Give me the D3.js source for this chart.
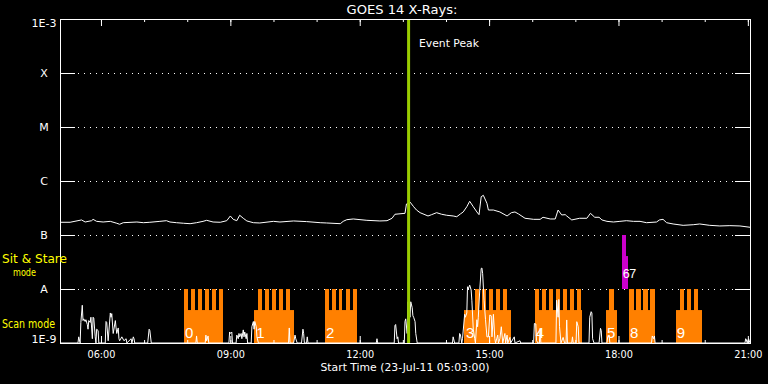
<!DOCTYPE html>
<html><head><meta charset="utf-8">
<script src="https://cdn.jsdelivr.net/npm/d3@7"></script>
<style>
html,body{margin:0;padding:0;background:#000;}
svg{display:block;background:#000;}
text{font-family:"DejaVu Sans",sans-serif;}
</style></head><body>
<svg id="chart" width="768" height="384"></svg>
<script>
// ---------------- data ----------------
const startTime = Date.UTC(2011, 6, 23, 5, 3, 0);   // 23-Jul-11 05:03:00
const durationMin = 960;
const titleText = "GOES 14 X-Rays:";
const xTitleText = "Start Time (23-Jul-11 05:03:00)";
const fluxTicks = [1e-9, 1e-8, 1e-7, 1e-6, 1e-5, 1e-4, 1e-3];
const fluxTickLabels = ["1E-9", "A", "B", "C", "M", "X", "1E-3"];
const gridLevels = [1e-8, 1e-7, 1e-6, 1e-5, 1e-4];
const eventPeakMin = 485;
const eventLabel = "Event Peak";
const modeTextStare = ["Sit & Stare", "mode"];
const modeTextScan = "Scan mode";

// GOES long channel: [minutes after start, flux in 1e-7 W/m^2]
const longChannel = [
 [0,1.72],[14,1.72],[30,1.90],[35,1.74],[44,1.84],[46,1.95],[51,1.79],[60,1.74],[70,1.79],[79,1.65],
 [83,1.58],[88,1.69],[107,1.74],[116,1.69],[125,1.72],[139,1.79],[148,1.84],[153,1.74],[162,1.69],[172,1.65],
 [181,1.62],[190,1.69],[199,1.79],[204,1.87],[213,1.74],[223,1.72],[232,1.84],[237,2.25],[241,1.95],[246,1.84],
 [250,2.32],[255,2.04],[260,1.82],[269,1.69],[278,1.67],[297,1.79],[306,1.74],[325,1.82],[343,1.77],[362,1.69],
 [371,1.67],[390,1.62],[394,1.79],[399,1.92],[408,1.98],[427,1.87],[445,1.82],[455,1.84],[462,2.04],[466,2.42],
 [480,2.52],[482,3.75],[487,4.08],[492,3.34],[496,2.90],[501,2.59],[512,2.25],[517,2.38],[524,2.59],[531,2.42],
 [538,2.32],[547,2.25],[552,2.18],[557,2.45],[561,2.67],[566,3.34],[570,4.21],[575,3.34],[580,2.67],[583,2.38],
 [586,5.12],[589,5.43],[594,3.86],[596,2.90],[603,2.90],[612,2.67],[622,2.25],[628,2.59],[633,2.67],[638,2.45],
 [647,2.04],[659,1.95],[668,1.95],[672,2.13],[682,1.98],[689,1.98],[693,2.90],[698,2.35],[703,2.38],[705,2.25],
 [712,1.90],[723,2.04],[733,2.04],[738,2.52],[744,2.13],[750,2.13],[754,1.90],[761,1.79],[770,1.74],[779,1.79],
 [788,1.84],[798,1.79],[807,1.79],[816,1.69],[830,1.74],[834,1.90],[839,1.95],[844,1.69],[853,1.60],[867,1.51],
 [881,1.55],[890,1.60],[904,1.51],[918,1.47],[932,1.49],[946,1.47],[960,1.39]
];

// GOES short channel: [minutes after start, flux in 1e-9 W/m^2]
const shortChannel = [
 [0,0.9],[25,0.9],[26,1.3],[28,0.9],[29,2.4],[31,5.0],[32,2.6],[33,2.8],[35,2.5],[36,2.7],[38,2.2],[39,1.8],
 [40,2.6],[42,2.4],[43,3.0],[45,1.2],[46,3.0],[47,2.9],[49,1.3],[50,0.9],[51,1.8],[53,1.7],[54,0.9],
 [63,0.9],[64,2.5],[65,2.4],[67,1.1],[70,3.6],[71,3.0],[72,3.5],[74,1.5],[77,2.6],[78,1.9],[79,1.5],[81,1.9],
 [82,1.2],[83,1.1],[86,1.3],[89,1.1],[92,1.2],[93,0.9],[99,1.2],[100,1.0],[102,1.3],[103,1.2],[104,0.9],
 [122,0.9],[124,1.8],[125,1.7],[127,0.9],
 [189,0.9],[190,1.35],[191,1.0],[192,0.9],[202,0.9],[203,1.4],[204,1.1],[206,1.35],[207,0.9],
 [235,0.9],[236,1.6],[237,1.5],[239,1.6],[240,0.9],[245,0.9],[246,1.4],[248,1.2],[249,1.5],[250,1.3],[252,1.5],
 [253,1.2],[255,1.75],[256,1.3],[257,1.6],[259,1.2],[260,1.5],[261,1.0],[263,0.9],[266,0.9],[267,2.0],[269,2.5],
 [270,1.8],[271,2.5],[273,2.0],[274,1.3],[276,0.9],
 [318,0.9],[319,1.9],[320,0.9],[325,0.9],[327,1.4],[328,1.2],[330,0.9],[336,0.9],[338,1.8],[339,1.5],[340,0.9],
 [343,0.9],[344,1.3],[345,0.9],
 [440,0.9],[441,1.2],[442,0.9],[465,0.9],[466,2.1],[467,2.2],[469,1.2],[470,1.3],[471,0.9],[479,0.9],[480,2.5],
 [481,2.8],[483,1.5],[484,5.8],[485,4.5],[487,3.0],[488,5.8],[490,4.5],[491,3.2],[492,3.0],[494,2.5],[495,1.5],
 [497,0.9],
 [546,0.9],[547,1.3],[549,0.9],[555,0.9],[556,1.5],[557,1.45],[559,0.9],[560,1.2],[563,3.4],[564,3.0],[566,3.6],
 [567,11.0],[568,10.0],[570,11.8],[572,9.6],[573,6.2],[575,1.8],[577,1.2],[578,1.0],[580,2.7],[581,2.0],[582,3.0],
 [584,9.6],[586,24.0],[587,24.5],[588,19.5],[590,6.2],[592,2.7],[594,1.3],[596,1.3],[598,3.3],[600,3.2],[601,1.3],
 [603,3.4],[605,1.2],[606,1.0],[609,1.4],[610,1.0],[612,1.2],[614,2.0],[616,1.0],[619,1.5],[620,0.9],[622,1.4],
 [623,0.9],[626,1.27],[627,0.9],[632,1.3],[633,0.9],[640,1.1],[641,0.9],
 [659,0.9],[660,2.3],[662,2.25],[663,1.1],[665,0.9],[667,0.9],[668,1.87],[669,0.9],[690,0.9],[691,6.2],[693,3.0],
 [694,6.4],[695,2.0],[697,0.9],[700,1.27],[702,0.9],[704,1.0],[705,2.67],[706,0.9],[712,0.9],[713,1.3],[714,0.9],
 [718,1.0],[719,2.48],[721,2.0],[722,0.9],[736,0.9],[737,3.0],[739,3.8],[740,3.6],[741,1.2],[743,0.9],[750,0.9],
 [752,1.87],[753,1.7],[754,0.9],[761,0.9],[762,1.3],[764,1.4],[765,0.9],[823,0.9],[824,1.35],[826,1.2],[827,1.35],
 [828,0.9],[953,0.9],[954,1.2],[955,1.14],[956,0.9],[958,1.2],[960,0.9]
];

// Scan mode observation periods [start, end] minutes (partial-height bars)
const scanBlocks = [[172,227],[270,326],[369,413],[562,628],[661,726],[760,775],[792,828],[857,893]];
// Individual scan rasters [start, end] minutes (full-height bars)
const scanRasters = [
 [172,178],[182,188],[192,197],[202,207],[211,217],[221,227],
 [275,281],[285,291],[295,300],[305,310],[314,320],
 [369,374],[378,384],[388,393],[398,403],[408,413],
 [577,583],[587,593],[597,602],[607,612],[616,622],
 [661,666],[671,676],[680,686],[690,695],[700,705],[710,715],[719,725],
 [764,771],
 [792,799],[801,808],[811,818],[821,828],
 [863,868],[872,878],[882,888]
];
// Sit & stare observations [start, end] minutes and fill fraction of lane
const stareRuns = [[782,788],[788,790]];
const stareFraction = [1, 0.61];
const scanBlockFraction = 0.61;
// Observation numbers
const obsLabels = ["0","1","2","3","4","5","6","7","8","9"];
const obsLabelMin = [174,273,370,565,662,761,783,792,793,858];
const obsLabelMode = ["scan","scan","scan","scan","scan","scan","stare","stare","scan","scan"];

// ---------------- chart ----------------
const svg = d3.select("#chart");
const L = 60, R = 750, T = 19, B = 343;
const tAt = m => new Date(startTime + m * 60000);
const x = d3.scaleUtc().domain([tAt(0), tAt(durationMin)]).range([L, R]);
const y = d3.scaleLog().domain([1e-9, 1e-3]).range([B, T]).clamp(true);

const ORANGE = "#ff8000", MAGENTA = "#cc00cc", GREEN = "#99cc00", YELLOW = "#ffff00";

svg.append("defs").append("clipPath").attr("id", "plot")
  .append("rect").attr("x", L).attr("y", T).attr("width", R - L).attr("height", B - T);

// dotted grid
svg.append("g").selectAll("line").data(gridLevels).join("line")
  .attr("x1", 78).attr("x2", 735)
  .attr("y1", d => y(d) + 0.5).attr("y2", d => y(d) + 0.5)
  .attr("stroke", "#fff").attr("stroke-width", 1).attr("stroke-dasharray", "1,5");

// mode bars
const laneBase = {scan: 1e-9, stare: 1e-8};
const laneTop = (mode, frac) => y(laneBase[mode] * Math.pow(10, frac));
const rx = m => Math.round(x(tAt(m)));
const bars = svg.append("g");
bars.selectAll("rect.blk").data(scanBlocks).join("rect").attr("class", "blk")
  .attr("x", d => rx(d[0])).attr("width", d => rx(d[1]) - rx(d[0]))
  .attr("y", laneTop("scan", scanBlockFraction)).attr("height", y(1e-9) - laneTop("scan", scanBlockFraction))
  .attr("fill", ORANGE);
bars.selectAll("rect.ras").data(scanRasters).join("rect").attr("class", "ras")
  .attr("x", d => rx(d[0])).attr("width", d => rx(d[1]) - rx(d[0]))
  .attr("y", laneTop("scan", 1)).attr("height", y(1e-9) - laneTop("scan", 1))
  .attr("fill", ORANGE);
bars.selectAll("rect.st").data(stareRuns).join("rect").attr("class", "st")
  .attr("x", d => rx(d[0])).attr("width", d => rx(d[1]) - rx(d[0]))
  .attr("y", (d, i) => laneTop("stare", stareFraction[i]))
  .attr("height", (d, i) => y(1e-8) - laneTop("stare", stareFraction[i]))
  .attr("fill", MAGENTA);

// observation numbers
svg.append("g").selectAll("text").data(obsLabels).join("text")
  .attr("x", (d, i) => x(tAt(obsLabelMin[i])))
  .attr("y", (d, i) => obsLabelMode[i] === "scan" ? y(1e-9) - 5 : y(1e-8) - 11)
  .attr("fill", "#fff")
  .attr("font-size", (d, i) => obsLabelMode[i] === "scan" ? 15 : 12.5)
  .style("font-family", "'Liberation Sans', sans-serif")
  .text(d => d);

// curves
const plotG = svg.append("g").attr("clip-path", "url(#plot)");
const lineLong = d3.line().x(d => x(tAt(d[0]))).y(d => y(d[1] * 1e-7));
const lineShort = d3.line().x(d => x(tAt(d[0]))).y(d => y(d[1] * 1e-9));
plotG.append("path").attr("d", lineShort(shortChannel))
  .attr("fill", "none").attr("stroke", "#fff").attr("stroke-width", 1);
plotG.append("path").attr("d", lineLong(longChannel))
  .attr("fill", "none").attr("stroke", "#fff").attr("stroke-width", 1);

// event peak
const ex = x(tAt(eventPeakMin));
svg.append("line").attr("x1", ex).attr("x2", ex).attr("y1", T).attr("y2", B)
  .attr("stroke", GREEN).attr("stroke-width", 3);
svg.append("text").attr("x", 419).attr("y", 46.5).attr("fill", "#fff")
  .attr("font-size", 11).attr("textLength", 60).attr("lengthAdjust", "spacingAndGlyphs")
  .text(eventLabel);

// frame
svg.append("rect").attr("x", L + 0.5).attr("y", T + 0.5).attr("width", R - L).attr("height", B - T)
  .attr("fill", "none").attr("stroke", "#fff").attr("stroke-width", 1);

function styleAxis(g) {
  g.select(".domain").remove();
  g.selectAll("line").attr("stroke", "#fff");
  g.selectAll("text").attr("fill", "#fff").attr("font-family", null);
  g.attr("font-family", null);
}

// left axis
const gl = svg.append("g").attr("transform", `translate(${L},0)`)
  .call(d3.axisLeft(y).tickValues(fluxTicks).tickSizeInner(-15).tickSizeOuter(0)
    .tickFormat((d, i) => fluxTickLabels[i]));
styleAxis(gl);
gl.selectAll("text").attr("x", -16).attr("text-anchor", "middle").attr("font-size", 11)
  .attr("dy", (d, i) => i === 0 ? "-0.05em" : (i === fluxTicks.length - 1 ? "0.72em" : "0.36em"));
// right axis
const gr = svg.append("g").attr("transform", `translate(${R},0)`)
  .call(d3.axisRight(y).tickValues(fluxTicks).tickSizeInner(-15).tickSizeOuter(0).tickFormat(""));
styleAxis(gr);

// top axis
const hourly = d3.utcHour.every(1), threeHourly = d3.utcHour.every(3);
const gtMinor = svg.append("g").attr("transform", `translate(0,${T})`)
  .call(d3.axisTop(x).ticks(hourly).tickSizeInner(-3).tickSizeOuter(0).tickFormat(""));
styleAxis(gtMinor);
const gtMajor = svg.append("g").attr("transform", `translate(0,${T})`)
  .call(d3.axisTop(x).ticks(threeHourly).tickSizeInner(-7).tickSizeOuter(0).tickFormat(""));
styleAxis(gtMajor);
// bottom axis
const gbMinor = svg.append("g").attr("transform", `translate(0,${B})`)
  .call(d3.axisBottom(x).ticks(hourly).tickSizeInner(-3).tickSizeOuter(0).tickFormat(""));
styleAxis(gbMinor);
const gbMajor = svg.append("g").attr("transform", `translate(0,${B})`)
  .call(d3.axisBottom(x).ticks(threeHourly).tickSizeInner(-7).tickSizeOuter(0).tickPadding(8)
    .tickFormat(d3.utcFormat("%H:%M")));
styleAxis(gbMajor);
gbMajor.selectAll("text").attr("font-size", 10.5).attr("textLength", 28).attr("lengthAdjust", "spacingAndGlyphs");

// titles
svg.append("text").attr("x", 402).attr("y", 14).attr("text-anchor", "middle").attr("fill", "#fff")
  .attr("font-size", 13).attr("textLength", 111).attr("lengthAdjust", "spacingAndGlyphs").text(titleText);
svg.append("text").attr("x", 405).attr("y", 371).attr("text-anchor", "middle").attr("fill", "#fff")
  .attr("font-size", 11).attr("textLength", 169).attr("lengthAdjust", "spacingAndGlyphs").text(xTitleText);

// mode labels
svg.append("text").attr("x", 2).attr("y", 262.5).attr("fill", YELLOW).attr("font-size", 11.5)
  .attr("textLength", 65).attr("lengthAdjust", "spacingAndGlyphs").text(modeTextStare[0]);
svg.append("text").attr("x", 13).attr("y", 275.5).attr("fill", YELLOW).attr("font-size", 11)
  .attr("textLength", 23).attr("lengthAdjust", "spacingAndGlyphs").text(modeTextStare[1]);
svg.append("text").attr("x", 2).attr("y", 328).attr("fill", YELLOW).attr("font-size", 11.5)
  .attr("textLength", 53).attr("lengthAdjust", "spacingAndGlyphs").text(modeTextScan);
</script>
</body></html>
